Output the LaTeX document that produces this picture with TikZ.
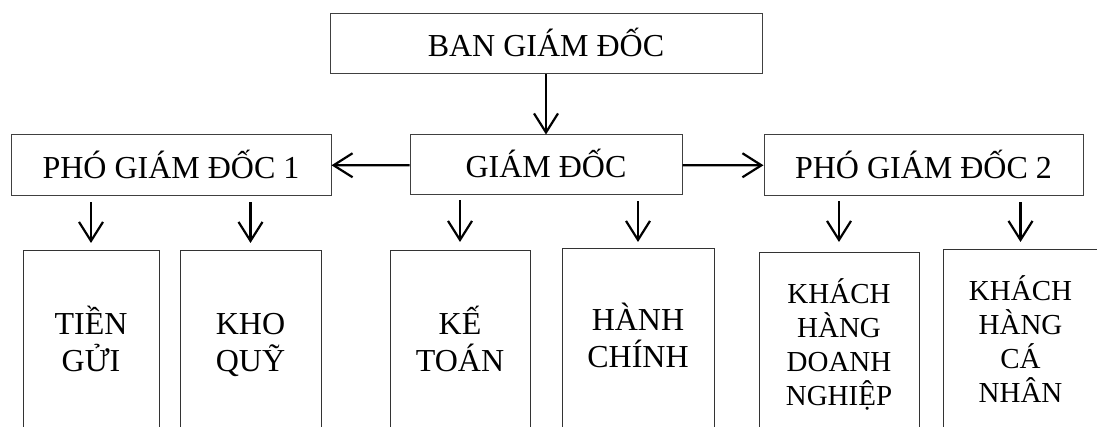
\documentclass[tikz,border=0pt]{standalone}
\usepackage{fontspec}
\setmainfont{Liberation Serif}
\usetikzlibrary{arrows.meta}

% fixed top and bottom of a stack of lines
\newcommand{\toprow}{\rule{0pt}{30pt}}
\newcommand{\lastrow}{\rule[-9pt]{0pt}{9pt}}

\begin{document}
\begin{tikzpicture}[x=1pt, y=-1pt,
    box/.style={draw=black!75, line width=1pt, inner sep=0pt, align=center,
        text height=26pt, text depth=0pt, font=\fontsize{32}{37}\selectfont},
    unitbox/.style={draw=black!80, line width=1pt, inner sep=0pt, align=center,
        anchor=north, minimum height=184pt, font=\fontsize{32}{37.5}\selectfont},
    smallunit/.style={unitbox, font=\fontsize{29}{33.7}\selectfont},
    arr/.style={line width=2.2pt, -{Straight Barb[length=19pt, width=24pt, line width=2.2pt]}}]
            \clip (0,0) rectangle (1097,427);
            \fill[white] (0,0) rectangle (1097,427);

            % top levels
            \node[box, minimum width=432pt, minimum height=60pt] (bgd) at (546,44) {BAN GIÁM ĐỐC};
            \node[box, minimum width=272pt, minimum height=60pt] (gd) at (546,165) {GIÁM ĐỐC};
            \node[box, minimum width=320pt, minimum height=61pt] (pgd1) at (171,165.5) {PHÓ GIÁM ĐỐC 1};
            \node[box, minimum width=319pt, minimum height=61pt] (pgd2) at (923.5,165.5) {PHÓ GIÁM ĐỐC 2};

            % units
            \node[unitbox, minimum width=136pt] (tg) at (91,250) {\toprow TIỀN\\GỬI\lastrow};
            \node[unitbox, minimum width=141pt] (kq) at (250.5,250) {\toprow KHO\\QUỸ\lastrow};
            \node[unitbox, minimum width=140pt] (kt) at (460,250) {\toprow KẾ\\TOÁN\lastrow};
            \node[unitbox, minimum width=152pt, minimum height=180pt] (hc) at (638,248) {\toprow HÀNH\\CHÍNH\lastrow};
            \node[smallunit, minimum width=160pt, minimum height=183pt] (khdn) at (839,252) {\toprow KHÁCH\\HÀNG\\DOANH\\NGHIỆP\lastrow};
            \node[smallunit, minimum width=155pt, minimum height=183pt] (khcn) at (1020.5,249) {\toprow KHÁCH\\HÀNG\\CÁ\\NHÂN\lastrow};

            \draw[arr] (bgd) -- (gd);
            \draw[arr] (gd) -- (pgd1);
            \draw[arr] (gd) -- (pgd2);

            \draw[arr] ([yshift=-6pt]pgd1.south -| tg.north) -- ([yshift=7pt]tg.north);
            \draw[arr] ([yshift=-6pt]pgd1.south -| kq.north) -- ([yshift=7pt]kq.north);
            \draw[arr] ([yshift=-5pt]gd.south -| kt.north) -- ([yshift=8pt]kt.north);
            \draw[arr] ([yshift=-6pt]gd.south -| hc.north) -- ([yshift=6pt]hc.north);
            \draw[arr] ([yshift=-5pt]pgd2.south -| khdn.north) -- ([yshift=10pt]khdn.north);
            \draw[arr] ([yshift=-6pt]pgd2.south -| khcn.north) -- ([yshift=7pt]khcn.north);
        \end{tikzpicture}
\end{document}
